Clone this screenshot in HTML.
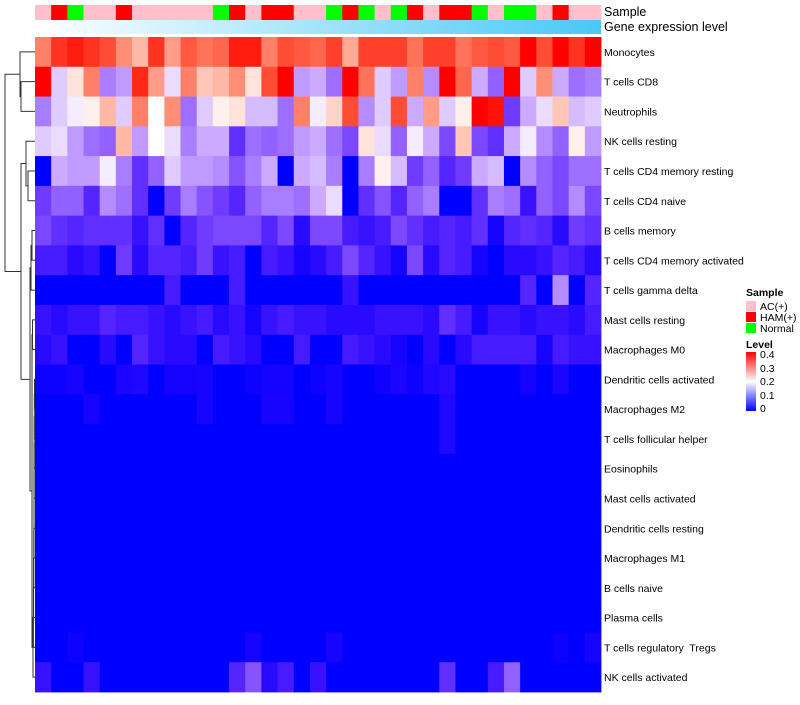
<!DOCTYPE html>
<html><head><meta charset="utf-8"><style>
body{margin:0;background:#fff;width:800px;height:700px;overflow:hidden}
svg text{font-family:"Liberation Sans",sans-serif;white-space:pre}
</style></head><body>
<svg id="chart" width="800" height="700">
<defs><linearGradient id="gexp" x1="0" x2="1"><stop offset="0" stop-color="#ffffff"/><stop offset="1" stop-color="#48c8f6"/></linearGradient>
<linearGradient id="lvl" x1="0" x2="0" y1="1" y2="0"><stop offset="0" stop-color="#0000ff"/><stop offset="0.5" stop-color="#ffffff"/><stop offset="1" stop-color="#ff0000"/></linearGradient></defs>
<g id="cells"></g>
<g id="dendro" stroke="#333" stroke-width="1" fill="none"></g>
<g id="labels"></g>
<rect x="35" y="20" width="566" height="14" fill="url(#gexp)"/>
<text x="604" y="16" font-size="12.5">Sample</text>
<text x="604" y="31" font-size="12.5">Gene expression level</text>
<g font-size="10.5">
<text x="746" y="296" font-weight="bold">Sample</text>
<rect x="746" y="301" width="10" height="10" fill="#ffc0cb"/><text x="760" y="310">AC(+)</text>
<rect x="746" y="312" width="10" height="10" fill="#ff0000"/><text x="760" y="321">HAM(+)</text>
<rect x="746" y="323" width="10" height="10" fill="#00ff00"/><text x="760" y="332">Normal</text>
<text x="746" y="348" font-weight="bold">Level</text>
<rect x="746" y="352" width="10" height="59" fill="url(#lvl)"/>
<text x="760" y="358">0.4</text>
<text x="760" y="372">0.3</text>
<text x="760" y="385">0.2</text>
<text x="760" y="399">0.1</text>
<text x="760" y="412">0</text>
</g>
</svg>
<script>
const rowNames=["Monocytes","T cells CD8","Neutrophils","NK cells resting","T cells CD4 memory resting","T cells CD4 naive","B cells memory","T cells CD4 memory activated","T cells gamma delta","Mast cells resting","Macrophages M0","Dendritic cells activated","Macrophages M2","T cells follicular helper","Eosinophils","Mast cells activated","Dendritic cells resting","Macrophages M1","B cells naive","Plasma cells","T cells regulatory  Tregs","NK cells activated"];
const sampleGroups=["AC","HAM","Normal","AC","AC","HAM","AC","AC","AC","AC","AC","Normal","HAM","AC","HAM","HAM","AC","AC","Normal","HAM","Normal","AC","Normal","HAM","AC","HAM","HAM","Normal","AC","Normal","Normal","AC","HAM","AC","AC"];
const monocytes=[.29,.35,.37,.35,.33,.28,.25,.35,.27,.32,.30,.31,.37,.37,.29,.33,.32,.31,.34,.26,.34,.34,.34,.30,.34,.34,.30,.32,.33,.32,.4,.33,.4,.35,.4];
const cd8=[.4,.17,.22,.29,.12,.14,.36,.27,.18,.29,.24,.25,.28,.22,.33,.4,.14,.15,.11,.4,.30,.17,.14,.29,.13,.4,.31,.15,.10,.4,.17,.28,.15,.11,.12];
const neutrophils=[.12,.17,.19,.21,.25,.17,.29,.20,.28,.11,.17,.21,.22,.16,.16,.11,.29,.19,.23,.33,.13,.17,.33,.15,.27,.17,.21,.4,.38,.07,.15,.18,.24,.16,.17];
const nkResting=[.17,.18,.14,.11,.10,.25,.14,.20,.18,.12,.15,.15,.06,.11,.10,.11,.14,.15,.11,.08,.22,.18,.10,.19,.15,.08,.24,.08,.06,.15,.19,.13,.10,.21,.14];
const cd4MemRest=[0,.15,.14,.14,.19,.12,.06,.10,.17,.14,.14,.13,.09,.12,.15,0,.15,.16,.12,0,.12,.21,.16,.07,.10,.05,.07,.15,.16,0,.13,.10,.08,.11,.11];
const cd4Naive=[.07,.10,.10,.05,.13,.11,.06,0,.07,.12,.09,.07,.05,.10,.12,.12,.11,.15,.18,0,.06,.09,.05,.10,.12,0,0,.06,.12,.11,.03,.10,.08,.13,.08];
const bMemory=[.08,.06,.05,.06,.06,.06,.03,.06,0,.05,.07,.08,.08,.08,.05,.08,.02,.08,.08,.04,.03,.04,.08,.06,.04,.05,.04,.06,.01,.05,.06,.05,.02,.07,.06];
const cd4MemAct=[.04,.04,.02,.03,0,.07,.02,.05,.05,.04,.07,.03,.04,0,.04,.03,.01,.02,.04,.08,.05,.03,.01,.08,.02,.05,.04,.01,0,.02,.02,.03,.05,.04,.02];
const gammaDelta=[0,0,0,0,0,0,0,0,.04,0,0,0,.04,0,0,0,0,0,0,.03,0,0,0,0,0,0,0,0,0,0,.05,0,.13,0,.05];
const mastResting=[.03,.02,.03,.03,.05,.04,.04,.03,.02,.03,.04,.02,.03,.01,.03,.04,.03,.03,.02,.02,.02,.03,.03,.03,.02,.06,.04,.01,.03,.03,.02,.03,.03,.02,.04];
const macM0=[.02,.03,0,0,.02,0,.05,.03,.02,.02,0,.04,.03,.02,0,0,.04,0,0,.04,.03,.02,.01,0,.02,0,.02,.04,.04,.04,.04,.01,.04,.03,.03];
const dcAct=[.005,.005,.01,0,0,.012,.015,0,.008,.008,.01,0,0,.005,.008,.008,0,.005,.01,0,0,.005,.012,.005,.015,.02,0,0,0,0,.008,0,.012,0,0];
const macM2=[0,0,0,.01,0,0,0,0,0,0,.01,0,0,0,.01,.01,0,0,.01,0,0,0,0,0,0,.015,0,0,0,0,0,0,0,0,0];
const tfh=[0,0,0,0,0,0,0,0,0,0,0,0,0,0,0,0,0,0,0,0,0,0,0,0,0,.015,0,0,0,0,0,0,0,0,0];
const zeros=new Array(35).fill(0);
const tregs=[0,0,.005,0,0,0,0,0,0,0,0,0,0,.01,0,0,0,0,.01,0,0,0,0,0,0,0,0,0,0,0,0,0,.005,0,.01];
const nkAct=[.03,0,0,.03,0,0,0,0,0,0,0,0,.05,.09,.02,.04,0,.03,0,0,0,0,0,0,0,.06,0,0,.04,.10,0,0,0,0,0];
const values=[monocytes,cd8,neutrophils,nkResting,cd4MemRest,cd4Naive,bMemory,cd4MemAct,gammaDelta,mastResting,macM0,dcAct,macM2,tfh,zeros,zeros,zeros,zeros,zeros,zeros,tregs,nkAct];
const groupColor={AC:"#ffc0cb",HAM:"#ff0000",Normal:"#00ff00"};
const X0=35,X1=601,Y0=37,Y1=692;
const nC=sampleGroups.length,nR=rowNames.length;
const cw=(X1-X0)/nC,rh=(Y1-Y0)/nR;
function xPos(c){return X0+c*cw;}
function yPos(r){return Y0+r*rh;}
function color(v){v=Math.max(0,Math.min(0.4,v));
 if(v<=0.2){const t=v/0.2;return `rgb(${Math.round(255*Math.pow(t,0.8))},${Math.round(255*Math.pow(t,1.4))},255)`;}
 const s=(v-0.2)/0.2;return `rgb(255,${Math.round(255*Math.pow(1-s,1.15))},${Math.round(255*Math.pow(1-s,1.5))})`;}
const NS="http://www.w3.org/2000/svg";
const cells=document.getElementById('cells');
sampleGroups.forEach((g,c)=>{const r=document.createElementNS(NS,'rect');
 r.setAttribute('x',xPos(c));r.setAttribute('y',5);r.setAttribute('width',cw+0.4);r.setAttribute('height',15);r.setAttribute('fill',groupColor[g]);
 
 
 cells.appendChild(r);});
values.forEach((row,ri)=>row.forEach((v,c)=>{const r=document.createElementNS(NS,'rect');
 r.setAttribute('x',xPos(c));r.setAttribute('y',yPos(ri));r.setAttribute('width',cw+0.4);r.setAttribute('height',rh+0.4);r.setAttribute('fill',color(v));
 
 
 cells.appendChild(r);}));
const labels=document.getElementById('labels');
rowNames.forEach((n,ri)=>{const t=document.createElementNS(NS,'text');
 t.setAttribute('x',604);t.setAttribute('y',yPos(ri)+rh/2+4);t.setAttribute('font-size','10.5');t.textContent=n;
 
 
 labels.appendChild(t);});
const merges=[[1,2,21],[0,"n0",20],[4,5,28],[3,"n2",26],[6,7,32],["n4",8,31],[9,10,32.5],
 [11,12,34.5],["n7",13,34.3],["n8",14,34.2],["n9",15,34.1],["n10",16,34],["n11",17,34],["n12",18,33.8],["n13",19,33.6],["n14",20,33.4],["n15",21,33],
 ["n6","n16",32],["n5","n17",30],["n3","n18",21],["n1","n19",5]];
const dendro=document.getElementById('dendro');
const pos={};
function info(k){if(typeof k==="number")return {y:yPos(k)+rh/2,x:X0};return pos[k];}
merges.forEach((m,i)=>{const a=info(m[0]),b=info(m[1]),x=m[2];
 const p=document.createElementNS(NS,'path');
 p.setAttribute('d',`M${a.x},${a.y}H${x}V${b.y}H${b.x}`);
 
 
 dendro.appendChild(p);
 pos["n"+i]={x:x,y:(a.y+b.y)/2};});
</script>
</body></html>
